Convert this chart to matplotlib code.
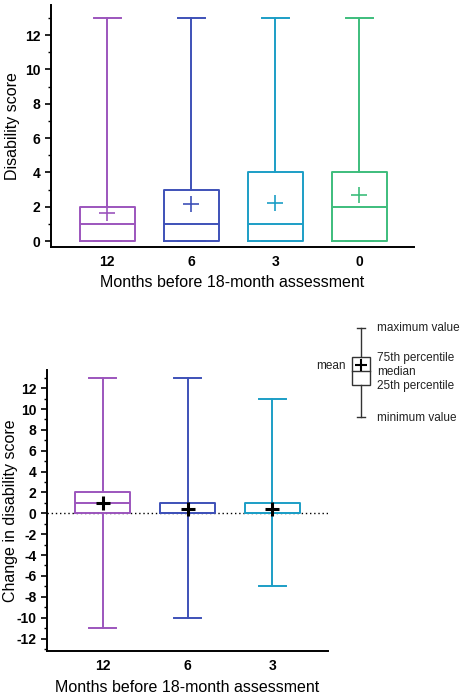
import numpy as np
import matplotlib
matplotlib.use("Agg")
import matplotlib.pyplot as plt

plt.rcParams['font.family'] = ['Liberation Sans', 'DejaVu Sans']

colors = ['#9c55bd', '#3e51b8', '#1c9ec6', '#3dbd7c']

# top panel: disability score
top_labels = ['12', '6', '3', '0']
top_min = [0, 0, 0, 0]
top_q1 = [0, 0, 0, 0]
top_med = [1, 1, 1, 2]
top_q3 = [2, 3, 4, 4]
top_max = [13, 13, 13, 13]
top_mean = [1.65, 2.15, 2.2, 2.7]

# bottom panel: change in disability score
bot_labels = ['12', '6', '3']
bot_min = [-11, -10, -7]
bot_q1 = [0, 0, 0]
bot_med = [1, 0, 0]
bot_q3 = [2, 1, 1]
bot_max = [13, 13, 11]
bot_mean = [1.0, 0.45, 0.45]


def make_stats(mins, q1, med, q3, maxs, means):
    return [dict(whislo=a, q1=b, med=c, q3=d, whishi=e, mean=f, fliers=[])
            for a, b, c, d, e, f in zip(mins, q1, med, q3, maxs, means)]


def draw_boxes(ax, stats, mean_black):
    for i, st in enumerate(stats):
        c = colors[i]
        mcol = 'black' if mean_black else c
        ax.bxp([st], positions=[i], widths=0.65, showmeans=True, showfliers=False,
               boxprops=dict(color=c, linewidth=1.4),
               medianprops=dict(color=c, linewidth=1.4),
               whiskerprops=dict(color=c, linewidth=1.4),
               capprops=dict(color=c, linewidth=1.4),
               capwidths=0.32,
               meanprops=dict(marker='+', markeredgecolor=mcol,
                              markersize=10 if mean_black else 11,
                              markeredgewidth=2.2 if mean_black else 1.2))


def style_axes(ax):
    for s in ['top', 'right']:
        ax.spines[s].set_visible(False)
    for s in ['left', 'bottom']:
        ax.spines[s].set_linewidth(1.4)
    ax.tick_params(axis='y', which='major', length=4, width=1.2, labelsize=10)
    ax.tick_params(axis='y', which='minor', length=2.5, width=1.0)
    ax.tick_params(axis='x', length=0, labelsize=10, pad=6)
    for lab in ax.get_xticklabels() + ax.get_yticklabels():
        lab.set_fontweight('bold')


fig = plt.figure(figsize=(4.61, 6.98), dpi=100)

ax1 = fig.add_axes([0.1106, 0.6461, 0.7874, 0.3467])
draw_boxes(ax1, make_stats(top_min, top_q1, top_med, top_q3, top_max, top_mean), False)
ax1.set_xlim(-0.67, 3.65)
ax1.set_ylim(-0.35, 13.75)
ax1.set_yticks(np.arange(0, 13, 2))
ax1.set_yticks(np.arange(0, 14, 1), minor=True)
ax1.set_xticks(range(len(top_labels)))
ax1.set_xticklabels(top_labels)
style_axes(ax1)
ax1.set_ylabel('Disability score', fontsize=11.5, labelpad=4)
ax1.set_xlabel('Months before 18-month assessment', fontsize=11.5, labelpad=4)

ax2 = fig.add_axes([0.102, 0.0673, 0.6095, 0.4027])
ax2.axhline(0, color='black', linestyle=(0, (1, 2)), linewidth=1, zorder=0)
draw_boxes(ax2, make_stats(bot_min, bot_q1, bot_med, bot_q3, bot_max, bot_mean), True)
ax2.set_xlim(-0.66, 2.66)
ax2.set_ylim(-13.2, 13.75)
ax2.set_yticks(np.arange(-12, 13, 2))
ax2.set_yticks(np.arange(-13, 14, 1), minor=True)
ax2.set_xticks(range(len(bot_labels)))
ax2.set_xticklabels(bot_labels)
style_axes(ax2)
ax2.set_yticklabels([str(v) for v in range(-12, 13, 2)], fontweight='bold')
ax2.set_ylabel('Change in disability score', fontsize=11.5, labelpad=1)
ax2.set_xlabel('Months before 18-month assessment', fontsize=11.5, labelpad=5)
ax2.yaxis.set_label_coords(-0.105, 0.5)

# key explaining the box plot
key = fig.add_axes([0, 0, 1, 1], facecolor='none')
key.set_xlim(0, 461)
key.set_ylim(698, 0)
key.axis('off')
kx = 361
key.plot([kx, kx], [328, 357], color='#333333', lw=1)
key.plot([kx, kx], [385, 417], color='#333333', lw=1)
key.plot([kx - 4, kx + 4], [328, 328], color='#333333', lw=1)
key.plot([kx - 4, kx + 4], [417, 417], color='#333333', lw=1)
key.add_patch(plt.Rectangle((352, 357), 18, 28, fill=False, ec='#333333', lw=1))
key.plot([352, 370], [371, 371], color='#333333', lw=1)
key.plot(kx, 365, marker='+', color='black', markersize=8, markeredgewidth=1.5)
tk = dict(fontsize=8.5, va='center', ha='left', color='#222222')
key.text(377, 328, 'maximum value', **tk)
key.text(377, 358, '75th percentile', **tk)
key.text(377, 372, 'median', **tk)
key.text(377, 386, '25th percentile', **tk)
key.text(377, 418, 'minimum value', **tk)
key.text(346, 366, 'mean', fontsize=8.5, va='center', ha='right', color='#222222')

fig.savefig('out.png', dpi=100)
